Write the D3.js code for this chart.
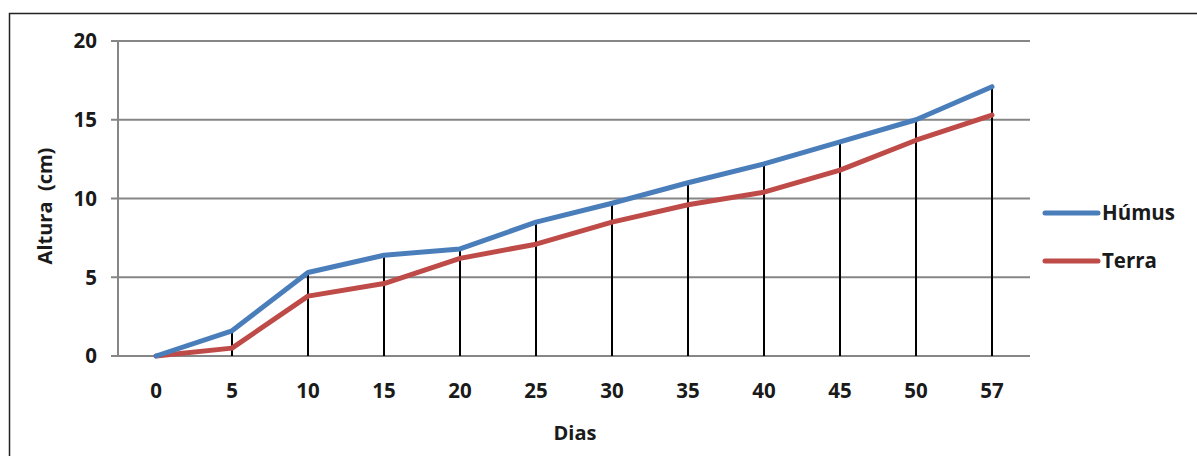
<!DOCTYPE html>
<html><head><meta charset="utf-8">
<script src="https://cdn.jsdelivr.net/npm/d3@7"></script>
<style>body{margin:0;background:#fff}svg{display:block}text{font-family:"Open Sans",sans-serif;font-weight:700;fill:#1a1a1a}</style>
</head><body><svg id="c" width="1197" height="456"></svg>
<script>
const categories = ["0","5","10","15","20","25","30","35","40","45","50","57"];
const humus = [0, 1.6, 5.3, 6.4, 6.8, 8.5, 9.7, 11.0, 12.2, 13.6, 15.0, 17.1];
const terra = [0, 0.5, 3.8, 4.6, 6.2, 7.1, 8.5, 9.6, 10.4, 11.8, 13.7, 15.3];
const yTicks = [0, 5, 10, 15, 20];
const seriesNames = ["Húmus", "Terra"];
const colors = ["#4a7ebb", "#be4b48"];

const svg = d3.select("#c");
const L = 118, R = 1030, T = 41, B = 356;
const x = d3.scaleBand().domain(categories).range([L, R]);
const y = d3.scaleLinear().domain([0, 20]).range([B, T]);

// outer frame
svg.append("path").attr("d", "M9.5,470 V13.5 H1200").attr("fill","none").attr("stroke","#222").attr("stroke-width",1.5);

// gridlines
svg.append("g").selectAll("line").data(yTicks).join("line")
  .attr("x1", L - 7).attr("x2", R).attr("y1", d => y(d)).attr("y2", d => y(d))
  .attr("stroke", "#868686").attr("stroke-width", 2);
svg.append("line").attr("x1", L).attr("x2", L).attr("y1", T).attr("y2", B)
  .attr("stroke", "#868686").attr("stroke-width", 2);

// y tick labels
svg.append("g").selectAll("text").data(yTicks).join("text")
  .attr("x", 97).attr("y", d => y(d)).attr("dy", "0.36em").attr("text-anchor", "end")
  .attr("font-size", 20.5).text(d => d);

// drop lines
const cx = c => x(c) + x.bandwidth() / 2;
svg.append("g").selectAll("line").data(categories).join("line")
  .attr("x1", cx).attr("x2", cx)
  .attr("y1", (c, i) => y(Math.max(humus[i], terra[i]))).attr("y2", y(0))
  .attr("stroke", "#000").attr("stroke-width", 2);

// series lines
const line = d3.line().x((d, i) => cx(categories[i])).y(d => y(d));
[humus, terra].slice().reverse().forEach((s, k) => {
  const idx = 1 - k;
  svg.append("path").datum(s).attr("d", line).attr("fill", "none")
    .attr("stroke", colors[idx]).attr("stroke-width", 5).attr("stroke-linejoin", "round").attr("stroke-linecap", "round");
});

// x tick labels
svg.append("g").selectAll("text").data(categories).join("text")
  .attr("x", cx).attr("y", 391).attr("dy", "0.36em").attr("text-anchor", "middle")
  .attr("font-size", 20.5).text(d => d);

// axis titles
svg.append("text").attr("x", 575).attr("y", 433).attr("dy", "0.36em").attr("text-anchor", "middle")
  .attr("font-size", 20).text("Dias");
svg.append("text").attr("transform", "translate(45,206) rotate(-90)").attr("dy", "0.36em")
  .attr("text-anchor", "middle").attr("font-size", 20).attr("xml:space","preserve").text("Altura  (cm)");

// legend
const ly = [213, 261];
seriesNames.forEach((n, i) => {
  svg.append("line").attr("x1", 1045).attr("x2", 1098).attr("y1", ly[i]).attr("y2", ly[i])
    .attr("stroke", colors[i]).attr("stroke-width", 5).attr("stroke-linecap", "round");
  svg.append("text").attr("x", 1102).attr("y", ly[i]).attr("dy", "0.36em").attr("font-size", 20.5).text(n);
});
</script></body></html>
